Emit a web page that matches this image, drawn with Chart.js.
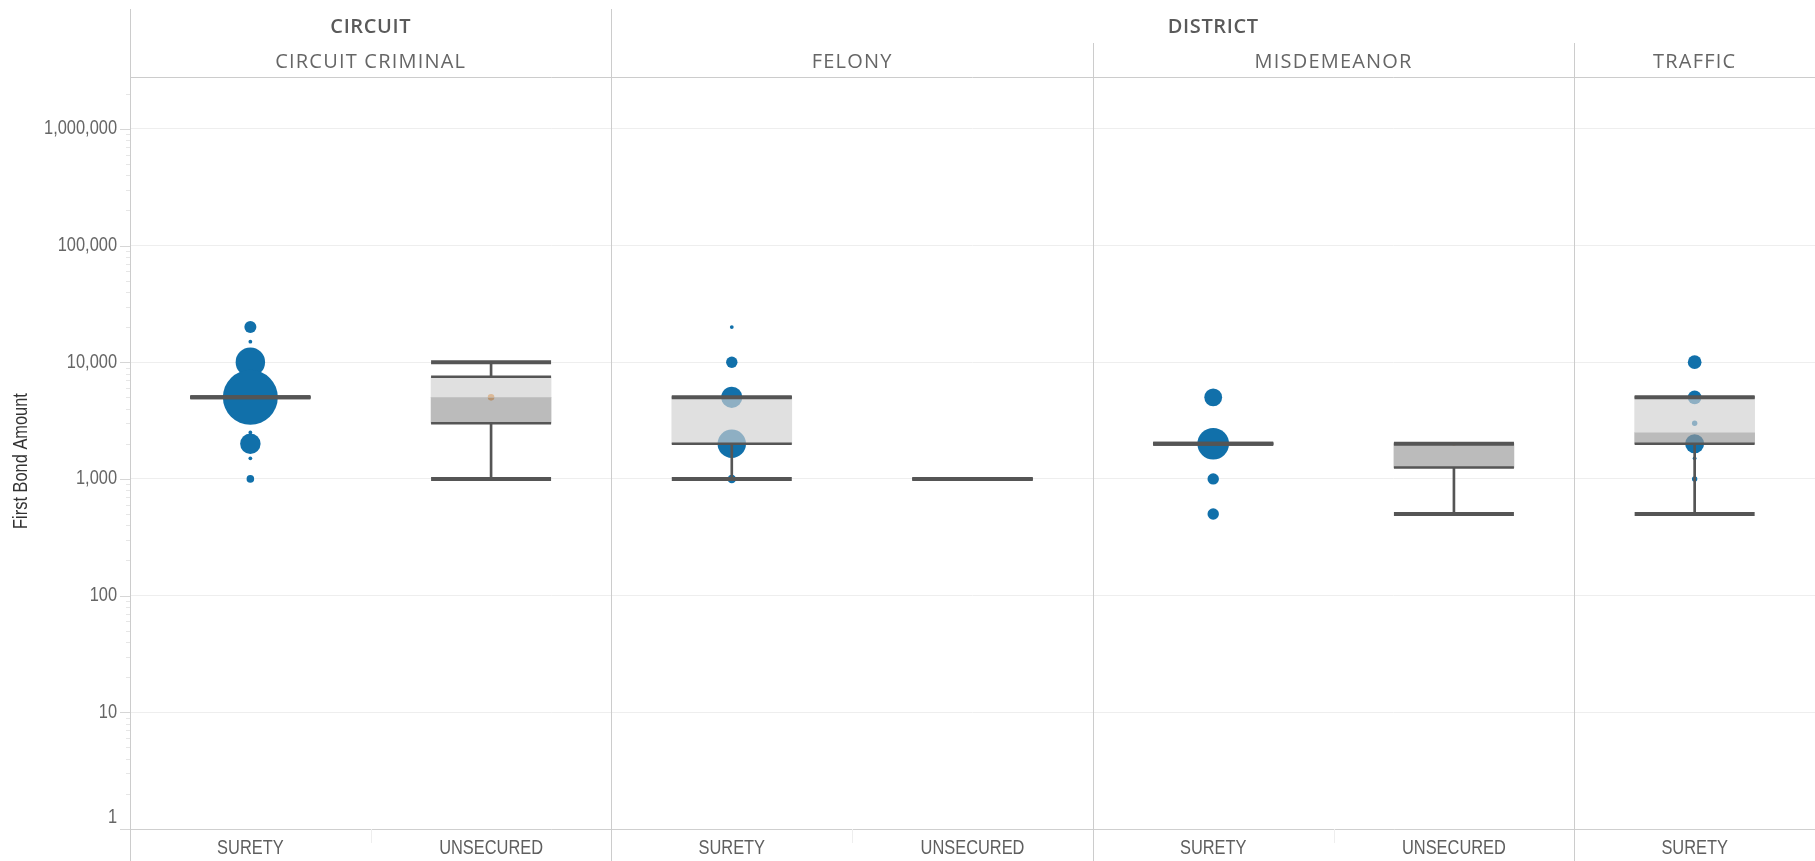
<!DOCTYPE html>
<html lang="en">
<head>
<meta charset="UTF-8">
<title>First Bond Amount by Court and Bond Type</title>
<script src="https://cdn.jsdelivr.net/npm/chart.js"></script>
<style>
    html, body { margin: 0; padding: 0; background: #fff; }
    .chart-container { position: relative; width: 1815px; height: 861px; }
</style>
</head>
<body>
<div class="chart-container"><canvas id="bondChart"></canvas></div>
<script>
// categories along the x axis (the last panel is cut off at the right edge)
const categories = ['SURETY', 'UNSECURED', 'SURETY', 'UNSECURED', 'SURETY', 'UNSECURED', 'SURETY'];
const courtTypes = ['CIRCUIT CRIMINAL', 'FELONY', 'MISDEMEANOR', 'TRAFFIC'];
const courts = ['CIRCUIT', 'DISTRICT'];
const yTickValues = [1, 10, 100, 1000, 10000, 100000, 1000000];

// box plot statistics per category
const whiskerLow = [5000, 1000, 1000, 1000, 2000, 500, 500];
const q1 = [5000, 3000, 2000, 1000, 2000, 1250, 2000];
const median = [5000, 5000, 2000, 1000, 2000, 2000, 2500];
const q3 = [5000, 7500, 5000, 1000, 2000, 2000, 5000];
const whiskerHigh = [5000, 10000, 5000, 1000, 2000, 2000, 5000];

// bond amounts and number of cases (circle size)
const circuitSuretyAmounts = [20000, 15000, 10000, 5000, 2500, 2000, 1500, 1000];
const circuitSuretyCounts = [10, 1, 60, 209, 1, 29, 1, 4];
const felonySuretyAmounts = [20000, 10000, 5000, 2000, 1000];
const felonySuretyCounts = [1, 9, 31, 56, 5];
const misdSuretyAmounts = [5000, 2000, 1000, 500];
const misdSuretyCounts = [22, 69, 9, 9];
const trafficSuretyAmounts = [10000, 5000, 3000, 2000, 1500, 1000, 500];
const trafficSuretyCounts = [13, 13, 2, 25, 1, 2, 1];

const circuitUnsecuredAmounts = [5000, 1000];
const circuitUnsecuredCounts = [3, 1];
const felonyUnsecuredAmounts = [1000];
const felonyUnsecuredCounts = [1];
const misdUnsecuredAmounts = [2000, 500];
const misdUnsecuredCounts = [1, 1];

const Y_MAX = 2780000;

// axis text is a narrow face; squeeze the regular one if no narrow face is installed
function fontExists(name) {
    const c = document.createElement('canvas').getContext('2d');
    c.font = '20px monospace';
    const a = c.measureText('1,000,000 SURETY').width;
    c.font = "20px '" + name + "', monospace";
    return c.measureText('1,000,000 SURETY').width !== a;
}
let narrowFamily = "'Liberation Sans', Arial, sans-serif";
let squeeze = 0.82;
if (fontExists('Liberation Sans Narrow')) { narrowFamily = "'Liberation Sans Narrow'"; squeeze = 1; }

function bubbles(cat, amounts, counts) {
    return amounts.map((a, i) => ({ x: cat, y: a, r: 1.9 * Math.sqrt(counts[i]) }));
}
const at = vals => vals.map((v, i) => ({ x: i, y: v }));
const range = (lo, hi) => lo.map((v, i) => ({ x: i, y: [v, hi[i]] }));

const suretyPoints = [].concat(
    bubbles(0, circuitSuretyAmounts, circuitSuretyCounts),
    bubbles(2, felonySuretyAmounts, felonySuretyCounts),
    bubbles(4, misdSuretyAmounts, misdSuretyCounts),
    bubbles(6, trafficSuretyAmounts, trafficSuretyCounts)
);
const unsecuredPoints = [].concat(
    bubbles(1, circuitUnsecuredAmounts, circuitUnsecuredCounts),
    bubbles(3, felonyUnsecuredAmounts, felonyUnsecuredCounts),
    bubbles(5, misdUnsecuredAmounts, misdUnsecuredCounts)
);

// minor log ticks (2..9 of each decade) only get a short tick mark
const allTicks = [];
yTickValues.forEach(d => {
    allTicks.push({ value: d, major: true });
    for (let m = 2; m <= 9; m++) if (d * m <= Y_MAX) allTicks.push({ value: d * m, major: false });
});

function capLine(data, width, order) {
    return {
        type: 'line', data: data, showLine: false, order: order,
        pointStyle: 'line', pointRadius: 60, pointBorderWidth: width,
        pointBorderColor: '#555', pointBackgroundColor: '#555'
    };
}

function narrowText(ctx, text, x, y, align) {
    ctx.save();
    ctx.translate(x, y);
    ctx.scale(squeeze, 1);
    ctx.textAlign = align;
    ctx.fillText(text, 0, 0);
    ctx.restore();
}

// headers, panel dividers, axis labels and y title
const facetPlugin = {
    id: 'facets',
    afterDraw(chart) {
        const { ctx, chartArea, scales: { x, y } } = chart;
        const px = v => x.getPixelForValue(v);
        ctx.save();

        // y tick marks
        ctx.lineWidth = 1;
        y.ticks.forEach(t => {
            const yy = Math.round(y.getPixelForValue(t.value)) + 0.5;
            ctx.strokeStyle = t.major ? '#d6d6d6' : '#e6e6e6';
            ctx.beginPath();
            ctx.moveTo(chartArea.left - (t.major ? 10 : 4), yy);
            ctx.lineTo(chartArea.left, yy);
            ctx.stroke();
        });

        ctx.strokeStyle = '#cccccc';
        ctx.beginPath();
        [[-0.5, 9], [1.5, 9], [3.5, 43], [5.5, 43]].forEach(([v, top]) => {
            const xx = Math.round(px(v)) + 0.5;
            ctx.moveTo(xx, top);
            ctx.lineTo(xx, chart.height);
        });
        ctx.moveTo(chartArea.left, 77.5);
        ctx.lineTo(chartArea.right, 77.5);
        ctx.stroke();

        // faint separators between bond types in the label row
        ctx.strokeStyle = '#eeeeee';
        ctx.beginPath();
        [0.5, 2.5, 4.5].forEach(v => {
            const xx = Math.round(px(v)) + 0.5;
            ctx.moveTo(xx, chartArea.bottom);
            ctx.lineTo(xx, chartArea.bottom + 14);
        });
        ctx.stroke();

        ctx.textBaseline = 'middle';
        ctx.font = '20px ' + narrowFamily;

        // y axis labels (the bottom one sits just above the axis line)
        ctx.fillStyle = '#666';
        y.ticks.forEach(t => {
            if (!t.major) return;
            let yy = y.getPixelForValue(t.value);
            if (t.value === yTickValues[0]) yy -= 12;
            narrowText(ctx, Number(t.value).toLocaleString('en-US'), 117, yy, 'right');
        });

        // x axis labels
        ctx.fillStyle = '#5f5f5f';
        x.ticks.forEach(t => {
            narrowText(ctx, categories[t.value], px(t.value), 848, 'center');
        });

        // y title
        ctx.save();
        ctx.translate(21, (chartArea.top + chartArea.bottom) / 2 + 8);
        ctx.rotate(-Math.PI / 2);
        ctx.fillStyle = '#333';
        narrowText(ctx, 'First Bond Amount', 0, 0, 'center');
        ctx.restore();

        // facet headers
        ctx.textAlign = 'center';
        ctx.fillStyle = '#5a5a5a';
        ctx.font = "600 20px 'Open Sans', sans-serif";
        ctx.letterSpacing = '0.6px';
        ctx.fillText(courts[0], px(0.5), 27);
        ctx.fillText(courts[1], (px(1.5) + chartArea.right) / 2, 27);

        ctx.fillStyle = '#666';
        ctx.font = "20px 'Open Sans', sans-serif";
        ctx.letterSpacing = '1.2px';
        ctx.fillText(courtTypes[0], px(0.5), 62);
        ctx.fillText(courtTypes[1], px(2.5), 62);
        ctx.fillText(courtTypes[2], px(4.5), 62);
        ctx.fillText(courtTypes[3], px(6), 62);
        ctx.restore();
    }
};

new Chart(document.getElementById('bondChart').getContext('2d'), {
    type: 'bar',
    data: {
        datasets: [
            capLine(at(whiskerHigh), 4, 1),
            capLine(at(whiskerLow), 4, 1),
            capLine(at(q3), 2.5, 2),
            capLine(at(q1), 2.5, 2),
            {
                type: 'bar', data: range(whiskerLow, q1), grouped: false, order: 4,
                barThickness: 2, backgroundColor: '#555'
            },
            {
                type: 'bar', data: range(q3, whiskerHigh), grouped: false, order: 4,
                barThickness: 2, backgroundColor: '#555'
            },
            {
                type: 'bar', data: range(median, q3), grouped: false, order: 5,
                barThickness: 120, backgroundColor: 'rgba(208, 208, 208, 0.66)'
            },
            {
                type: 'bar', data: range(q1, median), grouped: false, order: 5,
                barThickness: 120, backgroundColor: 'rgba(152, 152, 152, 0.66)'
            },
            {
                type: 'bubble', data: suretyPoints, order: 10,
                backgroundColor: '#1170aa', borderWidth: 0
            },
            {
                type: 'bubble', data: unsecuredPoints, order: 10,
                backgroundColor: '#f28e2b', borderWidth: 0
            }
        ]
    },
    options: {
        responsive: true,
        maintainAspectRatio: false,
        animation: false,
        events: [],
        layout: { autoPadding: false, padding: { top: 77, right: 0, left: 0, bottom: 0 } },
        plugins: { legend: { display: false }, tooltip: { enabled: false } },
        scales: {
            x: {
                type: 'linear',
                offset: false,
                min: -0.5,
                max: 6.5,
                afterBuildTicks: s => { s.ticks = categories.map((c, i) => ({ value: i })); },
                afterFit: s => { s.height = 32; },
                grid: { display: false, drawTicks: false },
                border: { display: true, color: '#cfcfcf' },
                ticks: { display: false }
            },
            y: {
                type: 'logarithmic',
                min: 1,
                max: Y_MAX,
                afterBuildTicks: s => { s.ticks = allTicks.map(t => ({ value: t.value, major: t.major })); },
                afterFit: s => { s.width = 130; },
                grid: {
                    color: c => (c.tick && c.tick.major) ? '#eeeeee' : 'transparent',
                    drawTicks: false
                },
                border: { display: false },
                ticks: { display: false }
            }
        }
    },
    plugins: [facetPlugin]
});
</script>
</body>
</html>
